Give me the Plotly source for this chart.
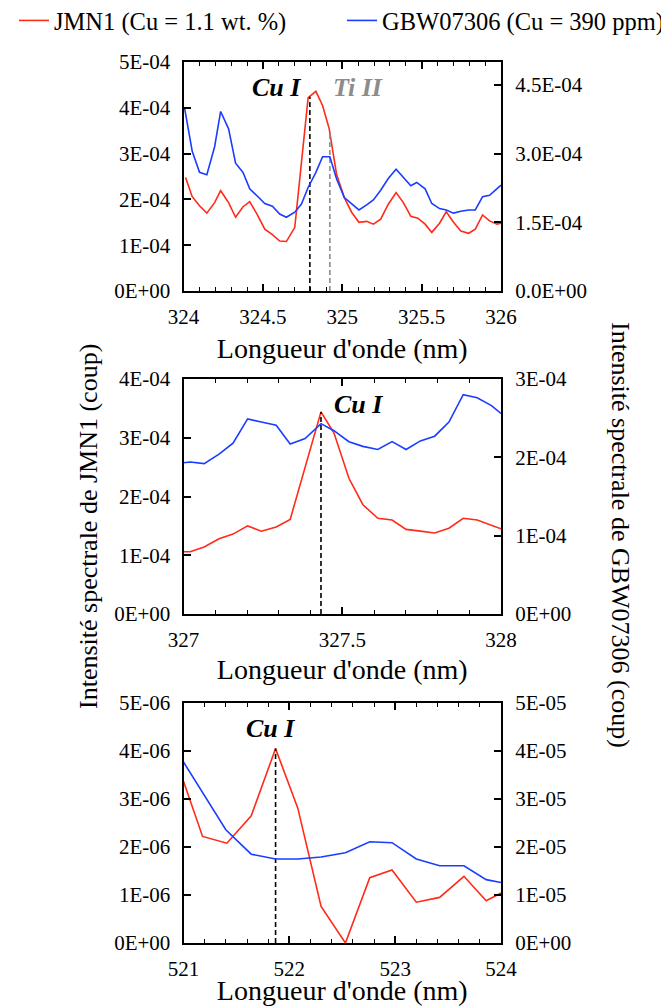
import plotly.graph_objects as go

RED = "#ff2a17"
BLUE = "#1a3dff"
FONT = "Liberation Serif"

# ---- panel 1 : 324 - 326 nm ----
p1_red_x = [324.013, 324.055, 324.101, 324.147, 324.196, 324.234, 324.284, 324.328, 324.375, 324.417,
            324.463, 324.512, 324.560, 324.606, 324.648, 324.701, 324.785, 324.834, 324.876, 324.918,
            324.964, 325.013, 325.059, 325.105, 325.154, 325.196, 325.242, 325.291, 325.339, 325.385,
            325.432, 325.476, 325.522, 325.564, 325.613, 325.655, 325.701, 325.747, 325.796, 325.838,
            325.884, 325.928, 325.975, 326.0]
p1_red_y = [2.48e-4, 2.06e-4, 1.86e-4, 1.70e-4, 1.93e-4, 2.19e-4, 1.93e-4, 1.61e-4, 1.84e-4, 1.95e-4,
            1.68e-4, 1.35e-4, 1.23e-4, 1.09e-4, 1.08e-4, 1.39e-4, 4.22e-4, 4.36e-4, 4.05e-4, 3.54e-4,
            2.55e-4, 2.04e-4, 1.72e-4, 1.50e-4, 1.52e-4, 1.46e-4, 1.57e-4, 1.90e-4, 2.15e-4, 1.93e-4,
            1.63e-4, 1.59e-4, 1.46e-4, 1.28e-4, 1.48e-4, 1.73e-4, 1.50e-4, 1.31e-4, 1.26e-4, 1.35e-4,
            1.66e-4, 1.53e-4, 1.46e-4, 1.48e-4]
p1_blue_x = [324.006, 324.055, 324.101, 324.147, 324.196, 324.234, 324.284, 324.328, 324.375, 324.417,
             324.463, 324.512, 324.560, 324.606, 324.648, 324.701, 324.743, 324.785, 324.834, 324.876,
             324.922, 324.964, 325.013, 325.059, 325.105, 325.154, 325.196, 325.242, 325.291, 325.339,
             325.385, 325.432, 325.469, 325.522, 325.564, 325.613, 325.655, 325.701, 325.747, 325.796,
             325.838, 325.884, 325.928, 326.0]
p1_blue_y = [4.01e-4, 3.05e-4, 2.59e-4, 2.54e-4, 3.15e-4, 3.92e-4, 3.54e-4, 2.79e-4, 2.59e-4, 2.23e-4,
             2.08e-4, 1.91e-4, 1.85e-4, 1.68e-4, 1.61e-4, 1.72e-4, 1.90e-4, 2.26e-4, 2.59e-4, 2.93e-4,
             2.93e-4, 2.45e-4, 2.04e-4, 1.91e-4, 1.77e-4, 1.88e-4, 1.99e-4, 2.20e-4, 2.46e-4, 2.66e-4,
             2.47e-4, 2.30e-4, 2.37e-4, 2.23e-4, 1.91e-4, 1.80e-4, 1.77e-4, 1.70e-4, 1.74e-4, 1.77e-4,
             1.77e-4, 2.06e-4, 2.09e-4, 2.31e-4]

# ---- panel 2 : 327 - 328 nm ----
p2_red_x = [327.000, 327.021, 327.065, 327.112, 327.156, 327.202, 327.245, 327.292, 327.336, 327.433,
            327.474, 327.521, 327.565, 327.612, 327.657, 327.701, 327.746, 327.791, 327.836, 327.881,
            327.925, 327.970, 328.0]
p2_red_y = [1.06e-4, 1.06e-4, 1.14e-4, 1.28e-4, 1.36e-4, 1.50e-4, 1.41e-4, 1.48e-4, 1.61e-4, 3.44e-4,
            3.08e-4, 2.31e-4, 1.86e-4, 1.63e-4, 1.60e-4, 1.44e-4, 1.41e-4, 1.38e-4, 1.46e-4, 1.63e-4,
            1.60e-4, 1.51e-4, 1.45e-4]
p2_blue_x = [327.000, 327.021, 327.065, 327.112, 327.156, 327.202, 327.245, 327.292, 327.336, 327.383,
             327.433, 327.474, 327.521, 327.565, 327.612, 327.657, 327.701, 327.746, 327.791, 327.836,
             327.881, 327.925, 327.970, 328.0]
p2_blue_y = [1.93e-4, 1.94e-4, 1.92e-4, 2.04e-4, 2.18e-4, 2.49e-4, 2.45e-4, 2.41e-4, 2.17e-4, 2.24e-4,
             2.43e-4, 2.34e-4, 2.20e-4, 2.14e-4, 2.10e-4, 2.20e-4, 2.10e-4, 2.21e-4, 2.27e-4, 2.45e-4,
             2.80e-4, 2.76e-4, 2.66e-4, 2.56e-4]

# ---- panel 3 : 521 - 524 nm ----
p3_red_x = [521.0, 521.18, 521.41, 521.64, 521.87, 522.08, 522.30, 522.53, 522.76, 522.97,
            523.20, 523.42, 523.65, 523.86, 524.0]
p3_red_y = [3.37e-6, 2.22e-6, 2.08e-6, 2.65e-6, 4.05e-6, 2.81e-6, 0.76e-6, 0.0, 1.36e-6, 1.52e-6,
            0.85e-6, 0.95e-6, 1.39e-6, 0.88e-6, 1.04e-6]
p3_blue_x = [521.0, 521.40, 521.64, 521.87, 522.08, 522.30, 522.53, 522.76, 522.97, 523.20,
             523.42, 523.65, 523.86, 524.0]
p3_blue_y = [3.77e-5, 2.36e-5, 1.85e-5, 1.75e-5, 1.75e-5, 1.79e-5, 1.88e-5, 2.11e-5, 2.09e-5, 1.75e-5,
             1.61e-5, 1.61e-5, 1.32e-5, 1.26e-5]

# emission lines: (panel, wavelength, top of dashed line, label, label x, label y, colour)
lines = [
    (1, 324.796, 4.24e-4, "Cu I", 324.585, 4.45e-4, "black"),
    (1, 324.922, 3.47e-4, "Ti II", 325.10, 4.45e-4, "#8c8c8c"),
    (2, 327.433, 3.44e-4, "Cu I", 327.55, 3.56e-4, "black"),
    (3, 521.87, 4.05e-6, "Cu I", 521.82, 4.47e-6, "black"),
]

# axis ticks
p1_x_ticks = [324, 324.5, 325, 325.5, 326]
p2_x_ticks = [327, 327.5, 328]
p3_x_ticks = [521, 522, 523, 524]
p1_left_vals = [0, 1e-4, 2e-4, 3e-4, 4e-4, 5e-4]
p1_left_text = ["0E+00", "1E-04", "2E-04", "3E-04", "4E-04", "5E-04"]
p1_right_vals = [0, 1.5e-4, 3e-4, 4.5e-4]
p1_right_text = ["0.0E+00", "1.5E-04", "3.0E-04", "4.5E-04"]
p2_left_vals = [0, 1e-4, 2e-4, 3e-4, 4e-4]
p2_left_text = ["0E+00", "1E-04", "2E-04", "3E-04", "4E-04"]
p2_right_vals = [0, 1e-4, 2e-4, 3e-4]
p2_right_text = ["0E+00", "1E-04", "2E-04", "3E-04"]
p3_left_vals = [0, 1e-6, 2e-6, 3e-6, 4e-6, 5e-6]
p3_left_text = ["0E+00", "1E-06", "2E-06", "3E-06", "4E-06", "5E-06"]
p3_right_vals = [0, 1e-5, 2e-5, 3e-5, 4e-5, 5e-5]
p3_right_text = ["0E+00", "1E-05", "2E-05", "3E-05", "4E-05", "5E-05"]

# the page body has an 8px margin, so the figure is 8px smaller and positions are shifted
OFF = 8
W, H = 669 - OFF, 1006 - OFF


def px(x):
    return (x - OFF) / W


def py(y):
    return 1 - (y - OFF) / H


X_DOM = [px(183.5), px(501)]
Y_DOMS = [[py(291), py(62)], [py(614), py(379)], [py(943), py(703)]]

fig = go.Figure()

panels = [
    (p1_red_x, p1_red_y, p1_blue_x, p1_blue_y),
    (p2_red_x, p2_red_y, p2_blue_x, p2_blue_y),
    (p3_red_x, p3_red_y, p3_blue_x, p3_blue_y),
]
for i, (rx, ry, bx, by) in enumerate(panels):
    xa = "x" if i == 0 else f"x{i+1}"
    yl = "y" if i == 0 else f"y{2*i+1}"
    yr = f"y{2*i+2}"
    fig.add_trace(go.Scatter(x=rx, y=ry, mode="lines", line=dict(color=RED, width=1.6),
                             name="JMN1 (Cu = 1.1 wt. %)", showlegend=(i == 0), legend="legend",
                             xaxis=xa, yaxis=yl))
    fig.add_trace(go.Scatter(x=bx, y=by, mode="lines", line=dict(color=BLUE, width=1.6),
                             name="GBW07306 (Cu = 390 ppm)", showlegend=(i == 0), legend="legend2",
                             xaxis=xa, yaxis=yr))

for panel, wl, top, label, lx, ly, col in lines:
    xa = "x" if panel == 1 else f"x{panel}"
    yl = "y" if panel == 1 else f"y{2*panel-1}"
    fig.add_trace(go.Scatter(x=[wl, wl], y=[0, top], mode="lines", showlegend=False,
                             line=dict(color=col, width=1.6, dash="5px,3px"), xaxis=xa, yaxis=yl))
    fig.add_annotation(x=lx, y=ly, xref=xa, yref=yl, text=f"<b><i>{label}</i></b>", showarrow=False,
                       font=dict(family=FONT, size=26, color=col))

tick_font = dict(family=FONT, size=21, color="black")
title_font = dict(family=FONT, size=28, color="black")


def x_axis(ticks, rng, minor, anchor, standoff):
    return dict(domain=X_DOM, range=rng, tickvals=ticks, ticks="inside", ticklen=7, tickwidth=1.5,
                tickcolor="black", showline=True, linewidth=2, linecolor="black", mirror="ticks",
                showgrid=False, zeroline=False, tickfont=tick_font, anchor=anchor, automargin=False,
                ticklabelstandoff=6,
                minor=dict(ticks="inside", dtick=minor, ticklen=4, tickcolor="black", tickwidth=1.2,
                           showgrid=False),
                title=dict(text="Longueur d'onde (nm)", font=title_font, standoff=standoff))


def y_axis(dom, rng, vals, text, side, anchor, overlay=None):
    d = dict(domain=dom, range=rng, tickvals=vals, ticktext=text, ticks="inside", ticklen=7,
             tickwidth=1.5, tickcolor="black", showline=True, linewidth=2, linecolor="black",
             showgrid=False, zeroline=False, tickfont=tick_font, side=side, anchor=anchor,
             automargin=False, ticklabelstandoff=7 if side == "left" else 8)
    if overlay:
        d["overlaying"] = overlay
    return d


fig.update_layout(
    xaxis=x_axis(p1_x_ticks, [324, 326], 0.1, "y", 10),
    yaxis=y_axis(Y_DOMS[0], [0, 5e-4], p1_left_vals, p1_left_text, "left", "x"),
    yaxis2=y_axis(Y_DOMS[0], [0, 5e-4], p1_right_vals, p1_right_text, "right", "x", "y"),
    xaxis2=x_axis(p2_x_ticks, [327, 328], 0.1, "y3", 8),
    yaxis3=y_axis(Y_DOMS[1], [0, 4e-4], p2_left_vals, p2_left_text, "left", "x2"),
    yaxis4=y_axis(Y_DOMS[1], [0, 3e-4], p2_right_vals, p2_right_text, "right", "x2", "y3"),
    xaxis3=x_axis(p3_x_ticks, [521, 524], 0.2, "y5", 1),
    yaxis5=y_axis(Y_DOMS[2], [0, 5e-6], p3_left_vals, p3_left_text, "left", "x3"),
    yaxis6=y_axis(Y_DOMS[2], [0, 5e-5], p3_right_vals, p3_right_text, "right", "x3", "y5"),
)

fig.add_annotation(x=px(88), y=py(527), xref="paper", yref="paper", text="Intensité spectrale de JMN1 (coup)",
                   textangle=-90, showarrow=False, xanchor="center", yanchor="middle",
                   font=dict(family=FONT, size=26, color="black"))
fig.add_annotation(x=px(621), y=py(535), xref="paper", yref="paper",
                   text="Intensité spectrale de GBW07306 (coup)",
                   textangle=90, showarrow=False, xanchor="center", yanchor="middle",
                   font=dict(family=FONT, size=26, color="black"))

legend_font = dict(family=FONT, size=24.5, color="black")
fig.update_layout(
    width=W, height=H, autosize=False,
    margin=dict(l=0, r=0, t=0, b=0, autoexpand=False),
    paper_bgcolor="white", plot_bgcolor="white",
    font=dict(family=FONT, color="black"),
    showlegend=True,
    legend=dict(orientation="h", x=px(14), xanchor="left", y=1 + 10 / H, yanchor="top",
                font=legend_font, itemwidth=30, bgcolor="rgba(0,0,0,0)"),
    legend2=dict(orientation="h", x=1, xanchor="right", y=1 + 10 / H, yanchor="top",
                 font=legend_font, itemwidth=30, bgcolor="rgba(0,0,0,0)"),
)

fig.write_html("out.html")
